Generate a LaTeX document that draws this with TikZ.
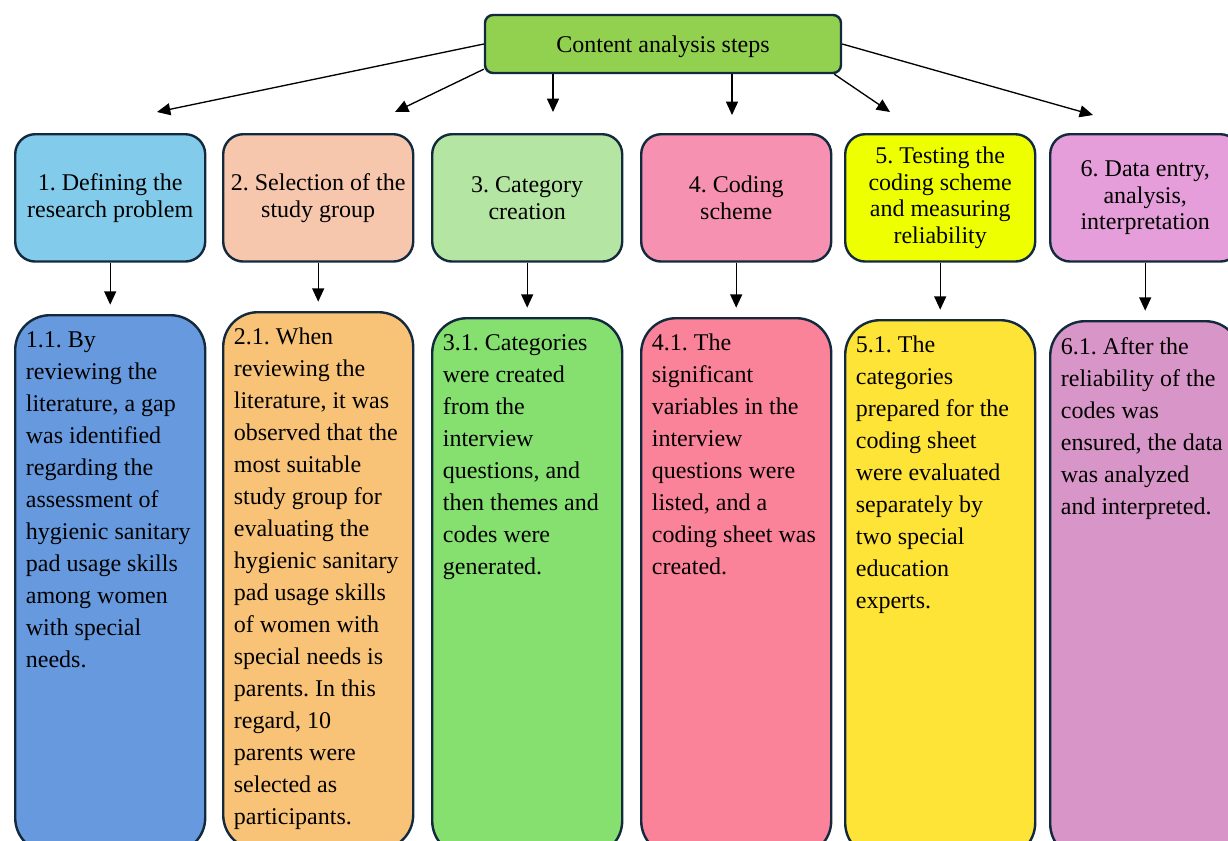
\documentclass[tikz,border=0pt]{standalone}
\usepackage{fontspec}
\setmainfont{Liberation Serif}
\usepackage{xcolor}
\usetikzlibrary{arrows.meta,positioning,calc}

\definecolor{edge}{HTML}{13293D}
\definecolor{titlegreen}{HTML}{92D050}
\definecolor{stepblue}{HTML}{83CBEB}
\definecolor{steppeach}{HTML}{F6C6AD}
\definecolor{stepgreen}{HTML}{B4E5A2}
\definecolor{steppink}{HTML}{F691B2}
\definecolor{stepyellow}{HTML}{EEFF00}
\definecolor{stepviolet}{HTML}{E59EDA}
\definecolor{detailblue}{HTML}{6699DD}
\definecolor{detailorange}{HTML}{F8C377}
\definecolor{detailgreen}{HTML}{86E070}
\definecolor{detailpink}{HTML}{FA8299}
\definecolor{detailyellow}{HTML}{FFE438}
\definecolor{detailviolet}{HTML}{D895C8}

\newcommand{\detailtext}[1]{\parbox[t][379pt][t]{126.5pt}{\raggedright #1}}
\frenchspacing

\begin{document}
\begin{tikzpicture}[
  x=0.75pt, y=-0.75pt,
  titlebox/.style={rectangle, draw=edge, line width=1.8pt, fill=titlegreen, rounded corners=6pt,
    minimum width=267pt, minimum height=43.5pt, text height=13pt, text depth=1pt,
    font=\fontsize{18}{20}\selectfont},
  stepbox/.style={rectangle, draw=edge, line width=1.8pt, rounded corners=15pt, anchor=north west,
    minimum width=142.5pt, minimum height=95.5pt, inner sep=2pt, align=center, font=\fontsize{18}{20}\selectfont},
  detailbox/.style={rectangle, draw=edge, line width=1.8pt, rounded corners=26pt, anchor=north west,
    inner xsep=8pt, inner ysep=12pt, font=\fontsize{18}{24}\selectfont},
  arrow/.style={-{Triangle[length=10pt, width=9pt]}, line width=1pt}
]
  \useasboundingbox (0,0) rectangle (1228,840);

  % main heading
  \node[titlebox] (title) at (663,44) {Content analysis steps};

  % steps
  \node[stepbox, fill=stepblue] (step1) at (14,133) {1. Defining the\\research problem};
  \node[stepbox, fill=steppeach] (step2) at (222,133) {2. Selection of the\\study group};
  \node[stepbox, fill=stepgreen] (step3) at (431,133) {3. Category\\creation};
  \node[stepbox, fill=steppink] (step4) at (640,133) {4. Coding\\scheme};
  \node[stepbox, fill=stepyellow] (step5) at (844,133) {5. Testing the\\coding scheme\\and measuring\\reliability};
  \node[stepbox, fill=stepviolet] (step6) at (1049,133) {6. Data entry,\\analysis,\\interpretation};

  % details
  \node[detailbox, fill=detailblue] (detail1) at (14,314) {\detailtext{1.1. By\\reviewing the\\literature, a gap\\was identified\\regarding the\\assessment of\\hygienic sanitary\\pad usage skills\\among women\\with special\\needs.}};
  \node[detailbox, fill=detailorange] (detail2) at (222,311) {\detailtext{2.1. When\\reviewing the\\literature, it was\\observed that the\\most suitable\\study group for\\evaluating the\\hygienic sanitary\\pad usage skills\\of women with\\special needs is\\parents. In this\\regard, 10\\parents were\\selected as\\participants.}};
  \node[detailbox, fill=detailgreen] (detail3) at (431,317) {\detailtext{3.1. Categories\\were created\\from the\\interview\\questions, and\\then themes and\\codes were\\generated.}};
  \node[detailbox, fill=detailpink] (detail4) at (640,317) {\detailtext{4.1. The\\significant\\variables in the\\interview\\questions were\\listed, and a\\coding sheet was\\created.}};
  \node[detailbox, fill=detailyellow] (detail5) at (844,319) {\detailtext{5.1. The\\categories\\prepared for the\\coding sheet\\were evaluated\\separately by\\two special\\education\\experts.}};
  \node[detailbox, fill=detailviolet] (detail6) at (1049,320) {\detailtext{6.1. After the\\reliability of the\\codes was\\ensured, the data\\was analyzed\\and interpreted.}};

  % arrow ends under the heading
  \coordinate (end1) at (157,112);
  \coordinate (end2) at (395,112);
  \coordinate (end3) at (553,112);
  \coordinate (end4) at (732,115);
  \coordinate (end5) at (890,112);
  \coordinate (end6) at (1093,115);

  \draw[arrow] (title.west) -- (end1);
  \draw[arrow] (title.188) -- (end2);
  \draw[arrow] ([xshift=-82.5pt]title.south) -- (end3);
  \draw[arrow] ([xshift=51.75pt]title.south) -- (end4);
  \draw[arrow] (title.350) -- (end5);
  \draw[arrow] (title.east) -- (end6);

  \foreach \i in {1,...,6}
    \draw[arrow, shorten >=7pt] (step\i) -- (detail\i);
\end{tikzpicture}
\end{document}
